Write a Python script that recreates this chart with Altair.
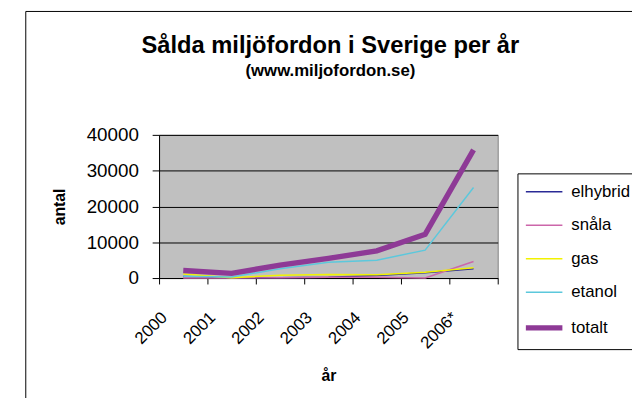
import altair as alt
import pandas as pd

years = ["2000", "2001", "2002", "2003", "2004", "2005", "2006*"]
series = ["elhybrid", "snåla", "gas", "etanol", "totalt"]
elhybrid = [400, 100, 100, 200, 700, 1500, 2600]
snala = [0, 0, 100, 200, 200, 0, 4600]
gas = [1100, 100, 800, 1000, 900, 1600, 2900]
etanol = [500, 300, 2600, 4400, 5000, 7800, 25300]
totalt = [2100, 1300, 3600, 5500, 7600, 12200, 35800]

colors = ["#2a2a96", "#cc66aa", "#f2f200", "#5cc8dc", "#8e3a96"]

rows = []
for name, vals in zip(series, [elhybrid, snala, gas, etanol, totalt]):
    for i, v in enumerate(vals):
        rows.append({"serie": name, "pos": i + 0.5, "ar": years[i], "antal": v})
df = pd.DataFrame(rows)

label_expr = "datum.value < 7 ? " + str(years) + "[datum.value] : ''"

frame = alt.Chart(pd.DataFrame({"a": [0]})).mark_rect(
    fill=None, stroke="black", strokeWidth=1
).encode(
    x=alt.value(-135), x2=alt.value(700), y=alt.value(-125), y2=alt.value(500)
)

lines = alt.Chart(df).mark_line(strokeJoin="miter", strokeCap="butt").encode(
    x=alt.X("pos:Q",
            scale=alt.Scale(domain=[0, 7], nice=False, zero=False),
            axis=alt.Axis(values=[0, 1, 2, 3, 4, 5, 6, 7], labelExpr=label_expr,
                          grid=False, title="år", labelAngle=-45, labelFontSize=17,
                          labelAlign="right", labelBaseline="middle",
                          labelOffset=5, labelPadding=31, tickSize=6,
                          titleY=99, titleBaseline="middle")),
    y=alt.Y("antal:Q",
            scale=alt.Scale(domain=[0, 40000], nice=False),
            axis=alt.Axis(values=[0, 10000, 20000, 30000, 40000], format="d",
                          title="antal", tickSize=7, labelPadding=14, labelFontSize=19,
                          titleX=-101, titleY=72.5, titleAngle=270,
                          titleBaseline="middle", titleAlign="center")),
    color=alt.Color("serie:N", scale=alt.Scale(domain=series, range=colors),
                    legend=alt.Legend(
                        title=None,
                        symbolStrokeWidth={"expr": "datum.value === 'totalt' ? 5.5 : 1.5"})),
    strokeWidth=alt.condition("datum.serie === 'totalt'", alt.value(5.5), alt.value(1.5)),
    order=alt.Order("pos:Q"),
)

chart = alt.layer(frame, lines).properties(
    width=343, height=145,
    autosize=alt.AutoSizeParams(type="none"),
    padding={"left": 153, "top": 126, "right": 136, "bottom": 119},
    title=alt.TitleParams(
        text="Sålda miljöfordon i Sverige per år",
        subtitle="(www.miljofordon.se)",
        anchor="middle", frame="group", fontSize=24, fontWeight="bold", font="Liberation Sans",
        subtitleFontSize=17, subtitleFontWeight="bold", subtitleFont="Liberation Sans",
        subtitleColor="black", color="black", subtitlePadding=5, offset=56, dx=2, dy=125,
    ),
).configure(
    font="Liberation Sans",
).configure_view(
    fill="#c0c0c0", stroke="#808080", strokeWidth=1,
).configure_axis(
    labelFont="Liberation Sans", labelColor="black",
    titleFont="Liberation Sans", titleFontSize=16, titleFontWeight="bold", titleColor="black",
    domainColor="black", tickColor="black", gridColor="black", gridWidth=1,
    domainWidth=1, tickWidth=1,
).configure_legend(
    orient="none", legendX=363, legendY=39,
    symbolType="stroke", symbolSize=1369, symbolOffset=8.5,
    labelFont="Liberation Sans", labelFontSize=17,
    labelColor="black", labelOffset=19, rowPadding=16, padding=10,
    strokeColor="black", fillColor="white", labelLimit=200,
)

chart.save("out.html", embed_options={"renderer": "svg", "actions": False})
